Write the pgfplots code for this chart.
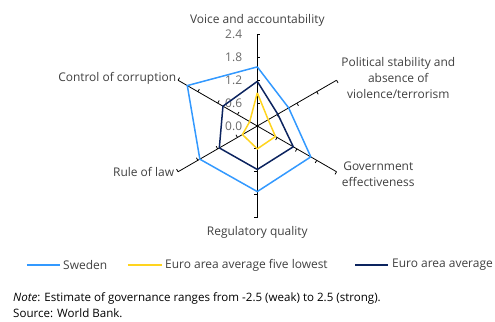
\documentclass[border=0pt]{standalone}
\usepackage{fontspec}
\setmainfont{Open Sans}
\usepackage{pgfplots}
\pgfplotsset{compat=1.18}
\usepgfplotslibrary{polar}
\definecolor{swe}{RGB}{51,153,255}
\definecolor{low}{RGB}{255,212,30}
\definecolor{ea}{RGB}{12,36,95}
\definecolor{txt}{RGB}{64,64,64}
\definecolor{tickgray}{RGB}{105,105,105}

\begin{document}
\begin{tikzpicture}[font=\fontsize{12}{14}\selectfont, text=txt]
\begin{polaraxis}[
  at={(0,0)}, anchor=origin, scale only axis, width=183bp, height=183bp,
  xmin=0, xmax=360, ymin=0, ymax=2.4, hide axis, clip=false]
% spokes
\draw[black, line width=0.8bp] (axis cs:0,0) -- (axis cs:90,2.4);
\draw[black, line width=0.8bp] (axis cs:0,0) -- (axis cs:30,2.4);
\draw[black, line width=0.8bp] (axis cs:0,0) -- (axis cs:330,2.4);
\draw[black, line width=0.8bp] (axis cs:0,0) -- (axis cs:270,2.4);
\draw[black, line width=0.8bp] (axis cs:0,0) -- (axis cs:210,2.4);
\draw[black, line width=0.8bp] (axis cs:0,0) -- (axis cs:150,2.4);
\pgfplotsinvokeforeach{90,30,330,270,210,150}{
  \draw[black, line width=0.8bp] (axis cs:#1,0.6) -- ++(#1-90:3bp);
  \draw[black, line width=0.8bp] (axis cs:#1,1.2) -- ++(#1-90:3bp);
  \draw[black, line width=0.8bp] (axis cs:#1,1.8) -- ++(#1-90:3bp);
  \draw[black, line width=0.8bp] (axis cs:#1,2.4) -- ++(#1-90:3bp);
}
% radial tick labels
\pgfplotsinvokeforeach{0.0,0.6,1.2,1.8,2.4}{
  \node[anchor=east, inner sep=0pt, xshift=-15bp, text=tickgray, font=\fontsize{12}{14}\selectfont] at (axis cs:90,#1) {#1};
}
% Sweden
\addplot[swe, line width=1.5bp, line join=miter, no markers] coordinates {
  (90,1.55) (30,0.95) (330,1.62) (270,1.72) (210,1.74) (150,2.12) (90,1.55)};
% Euro area average five lowest
\addplot[low, line width=1.5bp, line join=miter, no markers] coordinates {
  (90,0.87) (30,0.33) (330,0.55) (270,0.60) (210,0.45) (150,0.23) (90,0.87)};
% Euro area average
\addplot[ea, line width=1.5bp, line join=miter, no markers] coordinates {
  (90,1.17) (30,0.62) (330,1.09) (270,1.14) (210,1.15) (150,1.04) (90,1.17)};
\end{polaraxis}

% category labels
\node at (0bp,106bp) {Voice and accountability};
\node[align=center, font=\fontsize{12}{16}\selectfont] at (141bp,48bp) {Political stability and\\absence of\\violence/terrorism};
\node[align=center, font=\fontsize{12}{16}\selectfont] at (121bp,-48bp) {Government\\effectiveness};
\node at (0bp,-106bp) {Regulatory quality};
\node[anchor=east, inner sep=0pt] at (-83bp,-46bp) {Rule of law};
\node[anchor=east, inner sep=0pt] at (-81bp,48bp) {Control of corruption};

% legend
\draw[swe, line width=1.5bp] (-230.3bp,-139bp) -- (-197.3bp,-139bp);
\node[anchor=west, inner sep=0pt] at (-194.3bp,-139bp) {Sweden};
\draw[low, line width=1.5bp] (-129.3bp,-139bp) -- (-95.3bp,-139bp);
\node[anchor=west, inner sep=0pt] at (-92.3bp,-139bp) {Euro area average five lowest};
\draw[ea, line width=1.5bp] (97.7bp,-139bp) -- (130.7bp,-139bp);
\node[anchor=west, inner sep=0pt] at (134.7bp,-139bp) {Euro area average};

% note and source
\node[anchor=west, inner sep=0pt, text=black, font=\fontsize{11.6}{13}\selectfont] at (-244.3bp,-172.5bp) {\textit{Note}: Estimate of governance ranges from -2.5 (weak) to 2.5 (strong).};
\node[anchor=west, inner sep=0pt, text=black, font=\fontsize{11.6}{13}\selectfont] at (-244.3bp,-187.5bp) {Source: World Bank.};

\pgfresetboundingbox
\path[use as bounding box] (-257.3bp,-196bp) rectangle (237.7bp,126bp);
\end{tikzpicture}
\end{document}
